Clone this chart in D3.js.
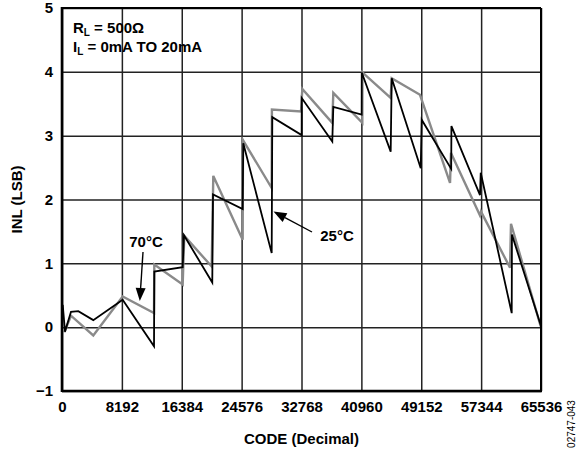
<!DOCTYPE html>
<html><head><meta charset="utf-8">
<script src="https://cdn.jsdelivr.net/npm/d3@7/dist/d3.min.js"></script>
<style>
html,body{margin:0;padding:0;background:#fff;}
svg{display:block;font-family:"Liberation Sans",Arial,sans-serif;}
</style></head>
<body>
<svg id="chart" width="586" height="451"></svg>
<script>
// ---- data ----
const xTicks = [0, 8192, 16384, 24576, 32768, 40960, 49152, 57344, 65536];
const yTicks = [-1, 0, 1, 2, 3, 4, 5];
const yTickLabels = ["\u22121", "0", "1", "2", "3", "4", "5"];

// 25°C (black)
const code25 = [100, 410, 1230, 2230, 4280, 8300, 12590, 12630, 16510, 16690, 20560, 20660, 24720, 24800, 28690, 28770, 32790, 32800, 36980, 37120, 41000, 41010, 44970, 45110, 49080, 49210, 53250, 53280, 57190, 57290, 61530, 61560, 65500];
const inl25  = [0.35, -0.07, 0.24, 0.25, 0.11, 0.43, -0.30, 0.87, 0.94, 1.44, 0.70, 2.08, 1.85, 2.88, 1.16, 3.29, 3.01, 3.59, 2.91, 3.45, 3.33, 3.99, 2.75, 3.90, 2.49, 3.25, 2.48, 3.15, 2.07, 2.42, 0.22, 1.45, 0.03];

// 70°C (gray)
const code70 = [310, 1230, 4280, 8300, 12590, 12630, 16510, 16730, 20480, 20700, 24720, 24760, 28690, 28720, 32700, 32880, 36980, 37120, 41090, 41100, 44970, 45110, 48980, 53090, 53220, 57190, 57330, 61300, 61430, 65500];
const inl70  = [-0.08, 0.18, -0.13, 0.48, 0.22, 0.98, 0.67, 1.43, 0.95, 2.37, 1.37, 2.93, 2.18, 3.41, 3.38, 3.73, 3.20, 3.67, 3.20, 3.99, 3.59, 3.90, 3.64, 2.26, 2.73, 1.75, 1.81, 0.93, 1.62, 0.01];

// ---- layout ----
const L = 62, R = 541, T = 8, B = 391;
const FONT = '"Liberation Sans",Arial,sans-serif';
const svg = d3.select("#chart");
const x = d3.scaleLinear().domain([0, 65536]).range([L, R]);
const y = d3.scaleLinear().domain([-1, 5]).range([B, T]);

// grid
const gx = svg.append("g").attr("transform", `translate(0,${B})`)
  .call(d3.axisBottom(x).tickValues(xTicks).tickSizeInner(-(B - T)).tickSizeOuter(0).tickPadding(10).tickFormat(d => String(d)));
gx.select(".domain").remove();
gx.selectAll(".tick line").attr("stroke", "#222").attr("stroke-width", 1.5);
gx.selectAll(".tick text").attr("font-size", 15).attr("font-weight", "bold").attr("fill", "#000").attr("font-family", FONT);

const gy = svg.append("g").attr("transform", `translate(${L},0)`)
  .call(d3.axisLeft(y).tickValues(yTicks).tickSizeInner(-(R - L)).tickSizeOuter(0).tickPadding(9).tickFormat((d, i) => yTickLabels[i]));
gy.select(".domain").remove();
gy.selectAll(".tick line").attr("stroke", "#222").attr("stroke-width", 1.5);
gy.selectAll(".tick text").attr("font-size", 15).attr("font-weight", "bold").attr("fill", "#000").attr("font-family", FONT);

// lines
const line = d3.line().x(d => x(d[0])).y(d => y(d[1]));
svg.append("path").datum(code70.map((c, i) => [c, inl70[i]]))
  .attr("d", line).attr("fill", "none").attr("stroke", "#8a8a8a").attr("stroke-width", 2.4).attr("stroke-linejoin", "miter");
svg.append("path").datum(code25.map((c, i) => [c, inl25[i]]))
  .attr("d", line).attr("fill", "none").attr("stroke", "#000").attr("stroke-width", 1.8).attr("stroke-linejoin", "miter");

// frame
svg.append("line").attr("x1", L).attr("x2", R).attr("y1", T).attr("y2", T).attr("stroke", "#000").attr("stroke-width", 2);
svg.append("line").attr("x1", R).attr("x2", R).attr("y1", T).attr("y2", B).attr("stroke", "#000").attr("stroke-width", 2);
svg.append("line").attr("x1", L).attr("x2", R + 1).attr("y1", B).attr("y2", B).attr("stroke", "#000").attr("stroke-width", 2.6);
svg.append("line").attr("x1", L).attr("x2", L).attr("y1", T - 1).attr("y2", B + 1).attr("stroke", "#000").attr("stroke-width", 2.6);

// axis titles
svg.append("text").attr("x", (L + R) / 2).attr("y", 444).attr("text-anchor", "middle")
  .attr("font-size", 15).attr("font-weight", "bold").text("CODE (Decimal)");
svg.append("text").attr("transform", `translate(22,${(T + B) / 2}) rotate(-90)`).attr("text-anchor", "middle")
  .attr("font-size", 15).attr("font-weight", "bold").text("INL (LSB)");
svg.append("text").attr("transform", `translate(575,424) rotate(-90)`).attr("text-anchor", "middle")
  .attr("font-size", 10).text("02747-043");

// notes
const n1 = svg.append("text").attr("x", 73).attr("y", 33).attr("font-size", 15).attr("font-weight", "bold");
n1.append("tspan").text("R");
n1.append("tspan").attr("dy", 2.5).attr("font-size", 10).text("L");
n1.append("tspan").attr("dy", -2.5).text(" = 500\u03A9");
const n2 = svg.append("text").attr("x", 73).attr("y", 52).attr("font-size", 15).attr("font-weight", "bold");
n2.append("tspan").text("I");
n2.append("tspan").attr("dy", 2.5).attr("font-size", 10).text("L");
n2.append("tspan").attr("dy", -2.5).text(" = 0mA TO 20mA");

// annotations with arrows
function arrow(x1, y1, x2, y2) {
  const ang = Math.atan2(y2 - y1, x2 - x1), len = 13, w = 5;
  const bx = x2 - len * Math.cos(ang), by = y2 - len * Math.sin(ang);
  svg.append("line").attr("x1", x1).attr("y1", y1).attr("x2", bx).attr("y2", by).attr("stroke", "#000").attr("stroke-width", 1.4);
  const px = -Math.sin(ang) * w, py = Math.cos(ang) * w;
  svg.append("path").attr("d", `M${x2},${y2}L${bx + px},${by + py}L${bx - px},${by - py}Z`).attr("fill", "#000");
}
svg.append("text").attr("x", 146).attr("y", 247).attr("text-anchor", "middle").attr("font-size", 15).attr("font-weight", "bold").text("70\u00B0C");
arrow(143, 252, 139.8, 301);
svg.append("text").attr("x", 337).attr("y", 241).attr("text-anchor", "middle").attr("font-size", 15).attr("font-weight", "bold").text("25\u00B0C");
arrow(312, 232, 273.5, 211.5);
</script>
</body></html>
